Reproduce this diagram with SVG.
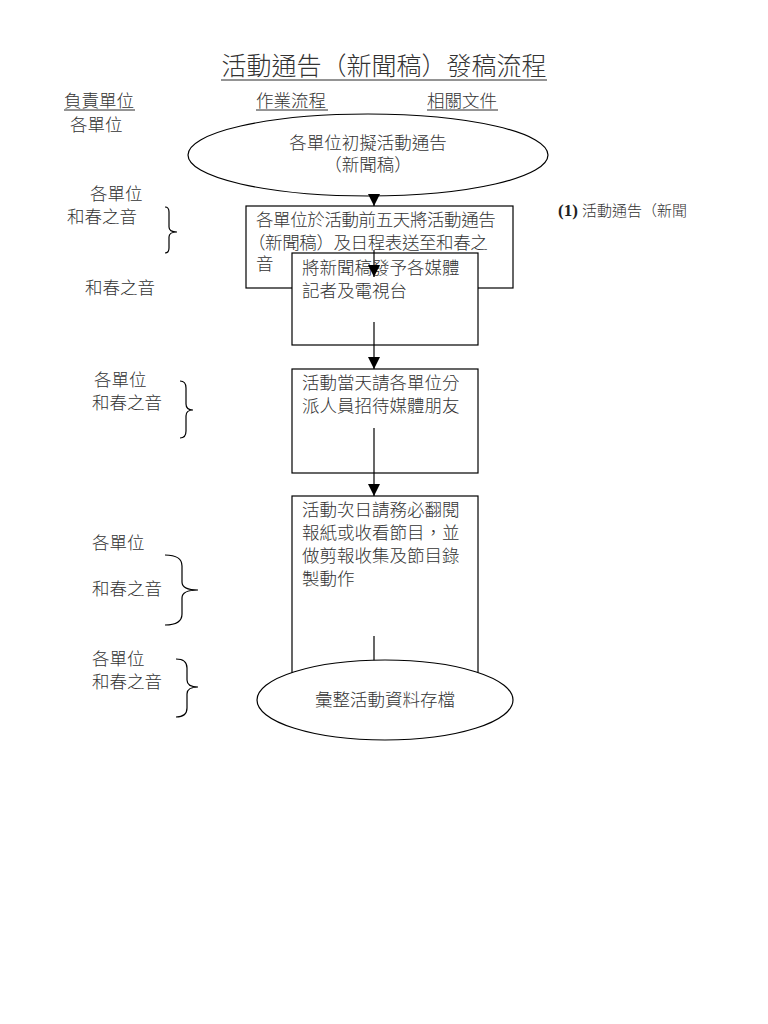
<svg xmlns="http://www.w3.org/2000/svg" width="768" height="1024" viewBox="0 0 768 1024">
<defs>
<style>
.t{font-family:"Liberation Sans","Noto Sans CJK TC",sans-serif;font-size:17.5px;font-weight:300;fill:#333}
.ttl{font-family:"Liberation Sans","Noto Sans CJK TC",sans-serif;font-size:25px;font-weight:300;fill:#333}
.n{fill:#fff;stroke:#000;stroke-width:1.2}
.br{fill:none;stroke:#000;stroke-width:1.2}
.c{stroke:#000;stroke-width:1.2;fill:none}
.s{font-family:"Liberation Sans","Noto Sans CJK TC",sans-serif;font-size:15px;font-weight:300;fill:#333}
</style>
<marker id="ah" markerUnits="userSpaceOnUse" markerWidth="12" markerHeight="12" viewBox="0 0 12 12" refX="12" refY="6" orient="auto">
<path d="M0,0 L12,6 L0,12 Z" fill="#000"/>
</marker>
</defs>
<rect width="768" height="1024" fill="#fff"/>

<g id="title">
<text class="ttl" x="384" y="75" text-anchor="middle">活動通告（新聞稿）發稿流程</text>
<line x1="221" y1="80" x2="547" y2="80" stroke="#2a2a2a" stroke-width="1.2"/>
</g>

<g id="headers">
<text class="t" x="64" y="107">負責單位</text>
<line x1="64" y1="110" x2="135" y2="110" stroke="#2a2a2a" stroke-width="1"/>
<text class="t" x="256" y="107">作業流程</text>
<line x1="256" y1="110" x2="328" y2="110" stroke="#2a2a2a" stroke-width="1"/>
<text class="t" x="427" y="107">相關文件</text>
<line x1="427" y1="110" x2="498" y2="110" stroke="#2a2a2a" stroke-width="1"/>
</g>

<g id="responsible">
<text class="t" x="70" y="131">各單位</text>
<text class="t" x="90" y="200">各單位</text>
<text class="t" x="67" y="223">和春之音</text>
<path class="br" d="M165,207 Q169,207 169,212 L169,227 Q169,232 177,232 Q169,232 169,237 L169,248 Q169,253 165,253"/>
<text class="t" x="85" y="294">和春之音</text>
<text class="t" x="94" y="386">各單位</text>
<text class="t" x="92" y="409">和春之音</text>
<path class="br" d="M180,381 Q186,381 186,388 L186,404 Q186,410 193,410 Q186,410 186,416 L186,431 Q186,438 180,438"/>
<text class="t" x="92" y="549">各單位</text>
<text class="t" x="92" y="595">和春之音</text>
<path class="br" d="M165,555 Q182,555 182,566 L182,582 Q182,590 198,590 Q182,590 182,598 L182,614 Q182,625 165,625"/>
<text class="t" x="92" y="665">各單位</text>
<text class="t" x="92" y="688">和春之音</text>
<path class="br" d="M176,659 Q187,659 187,668 L187,680 Q187,687 198,687 Q187,687 187,694 L187,708 Q187,717 176,717"/>
</g>

<g id="docs">
<text class="s" x="558" y="216"><tspan font-family="Liberation Serif" font-weight="bold" font-size="17" fill="#222">(1)</tspan> 活動通告（新聞</text>
</g>

<g id="n1">
<ellipse class="n" cx="368" cy="155" rx="180" ry="41"/>
<text class="t" x="368" y="149" text-anchor="middle">各單位初擬活動通告</text>
<text class="t" x="368" y="171" text-anchor="middle">（新聞稿）</text>
</g>

<g id="n2">
<rect class="n" x="246" y="206" width="267" height="82"/>
<text class="t" x="256" y="226" letter-spacing="-0.4">各單位於活動前五天將活動通告</text>
<text class="t" x="248" y="249" letter-spacing="-0.4">（新聞稿）及日程表送至和春之</text>
<text class="t" x="256" y="270">音</text>
</g>

<g id="n3">
<rect class="n" x="292" y="253" width="186" height="92"/>
<text class="t" x="302" y="274" font-size="18.5">將新聞稿發予各媒體</text>
<text class="t" x="302" y="297" font-size="18.5">記者及電視台</text>
</g>

<g id="n4">
<rect class="n" x="292" y="369" width="186" height="104"/>
<text class="t" x="302" y="389" font-size="18.5">活動當天請各單位分</text>
<text class="t" x="302" y="412" font-size="18.5">派人員招待媒體朋友</text>
</g>

<g id="n5">
<rect class="n" x="292" y="496" width="186" height="210"/>
<text class="t" x="302" y="516">活動次日請務必翻閱</text>
<text class="t" x="302" y="539">報紙或收看節目，並</text>
<text class="t" x="302" y="562">做剪報收集及節目錄</text>
<text class="t" x="302" y="585">製動作</text>
</g>

<g id="connectors">
<line class="c" x1="374" y1="196" x2="374" y2="206" marker-end="url(#ah)"/>
<line class="c" x1="374" y1="250" x2="374" y2="277" marker-end="url(#ah)"/>
<line class="c" x1="374" y1="322" x2="374" y2="369" marker-end="url(#ah)"/>
<line class="c" x1="374" y1="428" x2="374" y2="496" marker-end="url(#ah)"/>
<line class="c" x1="374" y1="636" x2="374" y2="662"/>
</g>

<g id="n6">
<ellipse class="n" cx="385" cy="700" rx="128" ry="40"/>
<text class="t" x="385" y="706" text-anchor="middle" font-size="18">彙整活動資料存檔</text>
</g>
</svg>
